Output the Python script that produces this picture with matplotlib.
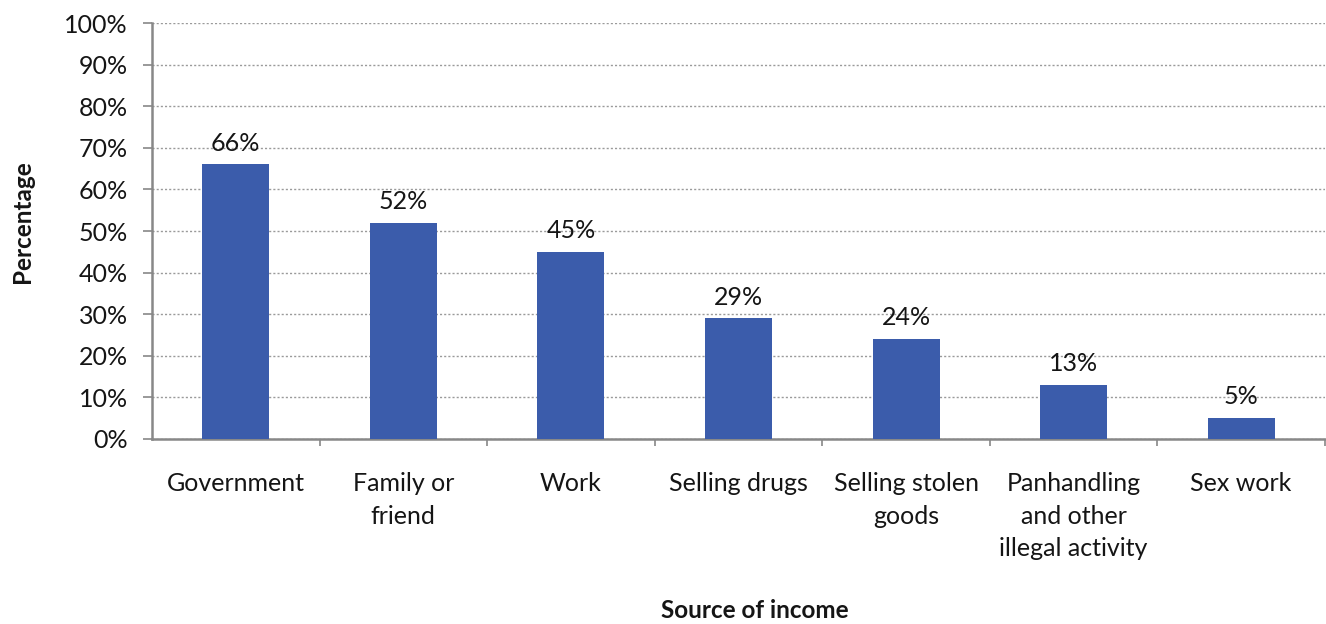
import matplotlib
matplotlib.use("Agg")
import matplotlib.pyplot as plt
from matplotlib.ticker import MultipleLocator, FuncFormatter, FixedLocator

plt.rcParams['font.family'] = ['Lato', 'DejaVu Sans']
plt.rcParams['text.color'] = "#151515"
plt.rcParams['xtick.labelcolor'] = "#151515"
plt.rcParams['ytick.labelcolor'] = "#151515"

categories = ["Government", "Family or\nfriend", "Work", "Selling drugs",
              "Selling stolen\ngoods", "Panhandling\nand other\nillegal activity",
              "Sex work"]
values = [66, 52, 45, 29, 24, 13, 5]
bar_color = "#3B5CAB"

fig = plt.figure(figsize=(13.26, 6.24), dpi=100)
ax = fig.add_axes([0.1146, 0.2965, 0.8846, 0.6665])

x = list(range(len(categories)))
ax.bar(x, values, width=0.4, color=bar_color, zorder=3)

for xi, v in zip(x, values):
    ax.annotate(f"{v}%", (xi, v), xytext=(0, 7), textcoords="offset points",
                ha="center", va="bottom", fontsize=18, zorder=4)

ax.set_xlim(-0.5, len(categories) - 0.5)
ax.set_ylim(0, 100)
ax.yaxis.set_major_locator(MultipleLocator(10))
ax.yaxis.set_major_formatter(FuncFormatter(lambda v, p: f"{int(v)}%"))
ax.yaxis.grid(True, linestyle=(0, (1.5, 1.5)), color="#9a9a9a", linewidth=1.0, zorder=0)

ax.set_xticks(x)
ax.set_xticklabels(categories, fontsize=18, linespacing=1.5, va="top")
ax.tick_params(axis="x", length=0, pad=24)
ax.xaxis.set_minor_locator(FixedLocator([i + 0.5 for i in range(len(categories))]))
ax.tick_params(axis="x", which="minor", length=5, color="#888888", width=1.2)
ax.tick_params(axis="y", labelsize=18, length=6.5, color="#888888", width=1.2, pad=11)

for s in ["top", "right"]:
    ax.spines[s].set_visible(False)
for s in ["left", "bottom"]:
    ax.spines[s].set_color("#888888")
    ax.spines[s].set_linewidth(1.8)

fig.text(22 / 1326, 1 - 222 / 624, "Percentage", rotation=90, ha="center",
         va="center", fontsize=17.5, fontweight="bold")
fig.text(755 / 1326, 1 - 611 / 624, "Source of income", ha="center",
         va="center", fontsize=17.5, fontweight="bold")

fig.savefig("out.png", dpi=100)
